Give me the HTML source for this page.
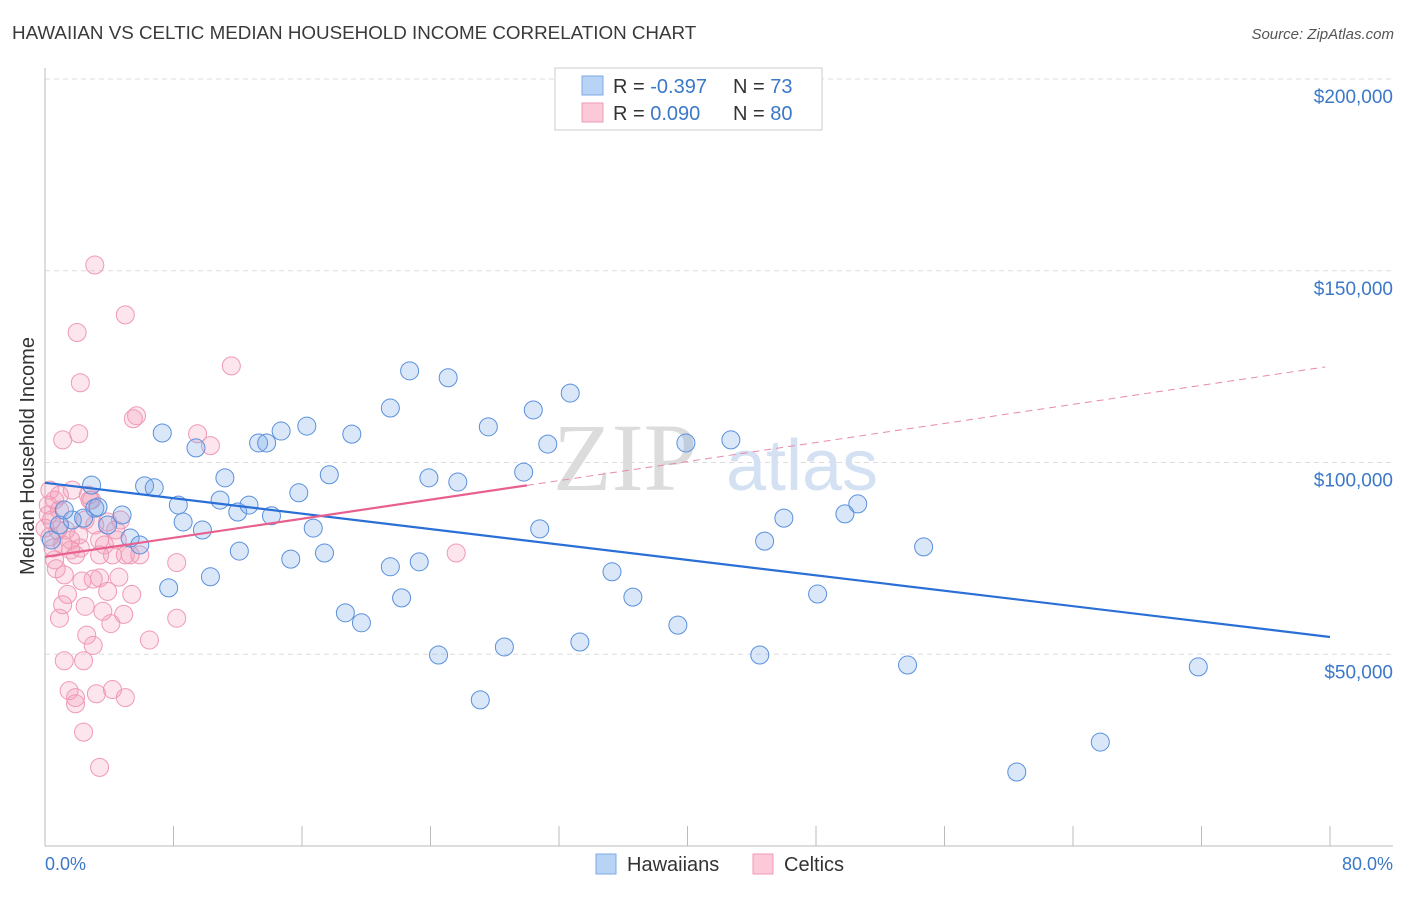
<!DOCTYPE html>
<html><head><meta charset="utf-8"><style>
body{margin:0;background:#fff;font-family:"Liberation Sans",sans-serif;}
svg text{font-family:"Liberation Sans",sans-serif;}
</style></head><body>
<svg id="chart" width="1406" height="892" xmlns="http://www.w3.org/2000/svg">
<text x="12" y="39" font-size="18.8" fill="#3a3a3a">HAWAIIAN VS CELTIC MEDIAN HOUSEHOLD INCOME CORRELATION CHART</text>
<text x="1394" y="39" font-size="15" fill="#555" font-style="italic" text-anchor="end">Source: ZipAtlas.com</text>
<g id="grid"></g>
<text x="625" y="490" font-size="96" fill="#dcdcdc" text-anchor="middle" style="font-family:'Liberation Serif',serif">ZIP</text>
<text x="802" y="490" font-size="72" fill="#d3e1f3" text-anchor="middle">atlas</text>
<g id="points"></g>
<g id="trends"></g>
<text x="34" y="456" font-size="20" fill="#333" text-anchor="middle" transform="rotate(-90 34 456)">Median Household Income</text>
<text x="45" y="870" font-size="18" fill="#3b78c8">0.0%</text>
<text x="1393" y="870" font-size="18" fill="#3b78c8" text-anchor="end">80.0%</text>
<g>
<rect x="555" y="68" width="267" height="62" fill="#fff" stroke="#ccc"/>
<rect x="582" y="76" width="21" height="19" fill="#b8d3f5" stroke="#7ea9e4"/>
<rect x="582" y="103" width="21" height="19" fill="#fcc9d9" stroke="#f09ab7"/>
<text x="613" y="93" font-size="20" fill="#333">R = <tspan fill="#3b78c8">-0.397</tspan></text>
<text x="733" y="93" font-size="20" fill="#333">N = <tspan fill="#3b78c8">73</tspan></text>
<text x="613" y="120" font-size="20" fill="#333">R = <tspan fill="#3b78c8"> 0.090</tspan></text>
<text x="733" y="120" font-size="20" fill="#333">N = <tspan fill="#3b78c8">80</tspan></text>
</g>
<g>
<rect x="596" y="854" width="20" height="20" fill="#b8d3f5" stroke="#7ea9e4"/>
<text x="627" y="871" font-size="20" fill="#333">Hawaiians</text>
<rect x="753" y="854" width="20" height="20" fill="#fcc9d9" stroke="#f09ab7"/>
<text x="784" y="871" font-size="20" fill="#333">Celtics</text>
</g>
</svg>
<script>
const yTicks=[50000,100000,150000,200000];
const yTickLabels=["$50,000","$100,000","$150,000","$200,000"];
const xTicks=[0,8,16,24,32,40,48,56,64,72,80];
const blueX=[2.9,3.1,1.7,2.4,3.3,3.9,4.8,5.3,5.9,6.2,6.8,7.3,7.7,8.3,8.6,9.4,9.8,10.3,10.9,11.2,12.0,12.1,12.7,13.3,13.8,14.1,14.7,15.3,15.8,16.3,16.7,17.4,17.7,18.7,19.1,19.7,21.5,21.5,22.2,22.7,23.3,23.9,24.5,25.1,25.7,27.1,27.6,28.6,29.8,30.4,30.8,31.3,32.7,33.3,35.3,36.6,39.4,39.9,42.7,44.5,44.8,46.0,48.1,49.8,50.6,53.7,54.7,60.5,65.7,71.8,0.4,0.9,1.2];
const blueY=[94.1,88.1,85.0,85.5,88.4,83.7,86.3,80.3,78.5,93.9,93.4,107.7,67.3,88.9,84.5,103.8,82.4,70.2,90.2,96.0,87.1,76.9,88.9,105.1,105.1,86.1,108.2,74.8,92.1,109.5,82.9,76.4,96.8,60.8,107.4,58.2,114.2,72.8,64.7,123.9,74.1,96.0,49.8,122.1,94.9,38.1,109.3,51.9,97.5,113.7,82.7,104.8,118.1,53.2,71.5,64.9,57.6,105.1,105.9,49.8,79.5,85.5,65.7,86.6,89.2,47.2,78.0,19.3,27.1,46.7,79.8,83.7,87.6];
const pinkX=[3.1,5.0,2.0,2.2,5.5,5.7,1.1,2.1,11.6,9.5,10.3,8.2,8.2,6.5,0.7,2.3,3.0,3.4,4.6,3.9,5.4,1.4,1.1,2.5,3.6,4.9,0.9,4.1,2.6,3.0,1.2,2.4,1.5,1.9,1.9,3.2,4.2,5.0,2.4,3.4,0.3,0.6,0.9,0.2,0.4,0.8,1.1,1.6,1.9,2.5,2.8,3.1,3.7,4.2,4.4,5.3,5.9,0.6,1.2,0.3,0.2,1.6,2.2,3.4,5.0,0.9,1.7,2.7,0.5,1.3,4.7,2.9,3.9,4.5,0.0,2.1,3.4,25.6];
const pinkY=[151.5,138.5,133.9,120.8,111.4,112.2,105.9,107.5,125.2,107.5,104.4,73.9,59.4,53.7,72.3,69.1,69.6,69.9,70.1,66.4,65.6,65.6,62.9,62.5,61.2,60.4,59.4,58.0,55.0,52.3,48.3,48.3,40.5,38.7,37.1,39.7,40.8,38.7,29.7,20.5,92.8,90.2,91.5,86.3,85.0,82.4,78.5,77.2,75.9,85.0,90.2,83.7,78.5,75.9,82.4,75.9,75.9,74.6,70.7,80.6,88.9,79.8,77.7,79.8,75.9,87.6,92.8,91.5,77.7,82.4,85.0,90.2,84.5,79.8,82.9,81.1,75.9,76.4];
const blueTrend=[94.7,54.5];
const pinkTrend=[75.4,125.1];
const pinkSolidEnd=30;
const NS="http://www.w3.org/2000/svg";
const xS=v=>45+v/80*1285;
const yS=v=>846-v/50000*191.75;
const yK=v=>yS(v*1000);
function mk(tag,attrs,parent){const e=document.createElementNS(NS,tag);for(const k in attrs)e.setAttribute(k,attrs[k]);parent.appendChild(e);return e;}
const grid=document.getElementById('grid');
yTicks.forEach((t,i)=>{
 const l=mk('line',{x1:45,x2:1393,y1:yS(t),y2:yS(t),stroke:'#ddd','stroke-dasharray':'5,4'},grid);
 
 
 const tx=mk('text',{x:1393,y:yS(t)+24,'font-size':19,fill:'#3b78c8','text-anchor':'end'},grid);
 tx.textContent=yTickLabels[i];
 
 
});
const ax=mk('line',{x1:45,x2:45,y1:68,y2:846,stroke:'#bbb'},grid);


const bx=mk('line',{x1:45,x2:1393,y1:846,y2:846,stroke:'#bbb'},grid);


xTicks.forEach(t=>{
 const l=mk('line',{x1:xS(t),x2:xS(t),y1:826,y2:846,stroke:'#bbb'},grid);
 
 
});
const pts=document.getElementById('points');
pinkX.forEach((x,i)=>{
 const c=mk('circle',{cx:xS(x),cy:yK(pinkY[i]),r:9,fill:'rgba(245,150,180,0.25)',stroke:'#ef9ab6','stroke-width':1},pts);
 
 
});
blueX.forEach((x,i)=>{
 const c=mk('circle',{cx:xS(x),cy:yK(blueY[i]),r:9,fill:'rgba(120,170,235,0.28)',stroke:'#5a90dc','stroke-width':1},pts);
 
 
});
const tr=document.getElementById('trends');
const b=mk('line',{x1:xS(0),y1:yK(blueTrend[0]),x2:xS(80),y2:yK(blueTrend[1]),stroke:'#2a6fd6','stroke-width':2.2},tr);


const pAt=x=>pinkTrend[0]+(pinkTrend[1]-pinkTrend[0])*x/80;
const p1=mk('line',{x1:xS(0),y1:yK(pAt(0)),x2:xS(pinkSolidEnd),y2:yK(pAt(pinkSolidEnd)),stroke:'#e8608e','stroke-width':2.2},tr);


const p2=mk('line',{x1:xS(pinkSolidEnd),y1:yK(pAt(pinkSolidEnd)),x2:xS(79.7),y2:yK(pAt(79.7)),stroke:'#e88aa9','stroke-width':1,'stroke-dasharray':'7,5'},tr);


</script>
</body></html>
